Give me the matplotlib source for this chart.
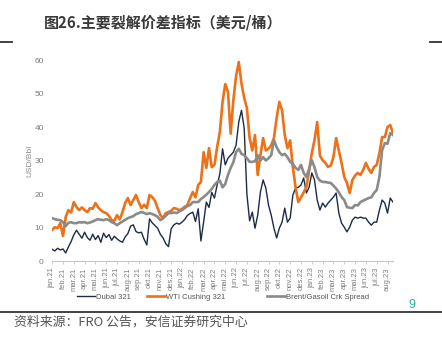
import numpy as np
import matplotlib
matplotlib.use("Agg")
import matplotlib.pyplot as plt
from matplotlib.lines import Line2D

plt.rcParams['font.family'] = ['Liberation Sans', 'Noto Sans CJK SC', 'DejaVu Sans']

# month axis labels (jan.21 .. aug.23)
months = ['jan.21', 'feb.21', 'mar.21', 'apr.21', 'mai.21', 'jun.21', 'jul.21', 'aug.21',
          'sep.21', 'okt.21', 'nov.21', 'des.21', 'jan.22', 'feb.22', 'mar.22', 'apr.22',
          'mai.22', 'jun.22', 'jul.22', 'aug.22', 'sep.22', 'okt.22', 'nov.22', 'des.22',
          'jan.23', 'feb.23', 'mar.23', 'apr.23', 'mai.23', 'jun.23', 'jul.23', 'aug.23']

# weekly values, 4 per month, USD/Bbl
dubai = [3.5, 3.0, 3.8, 3.3,   3.6, 2.4, 4.2, 5.8,   7.8, 9.2, 8.0, 6.8,   8.6, 7.0, 6.2, 8.0,
         6.4, 7.6, 5.6, 8.3,   7.0, 7.9, 6.2, 7.4,   6.6, 6.0, 5.6, 7.2,   8.2, 10.4, 10.8, 8.8,
         8.4, 8.6, 6.5, 4.8,   12.6, 11.4, 10.6, 9.8,   8.0, 6.9, 5.2, 4.3,   9.6, 10.8, 11.3, 11.0,
         11.6, 12.4, 13.6, 14.2,   14.6, 11.8, 15.6, 6.0,   11.6, 17.6, 16.0, 20.5,   18.8, 22.7, 26.0, 33.5,
         28.7, 30.7, 31.6, 32.5,   34.6, 41.5, 45.0, 39.7,   20.0, 12.0, 14.6, 9.8,   13.7, 20.6, 24.2, 21.8,
         16.7, 13.7, 9.8, 6.9,   9.8, 11.6, 15.8, 11.6,   12.8, 19.7, 21.8, 22.0,   22.7, 24.8, 20.3, 22.0,
         26.3, 24.2, 18.2, 15.2,   17.3, 16.1, 17.3, 18.2,   19.1, 20.3, 14.3, 11.3,   10.1, 8.7, 10.1, 12.2,
         13.1, 12.8, 13.1, 12.8,   12.8, 11.6, 10.7, 11.6,   11.6, 15.2, 18.2, 17.3,   14.3, 18.8, 17.6]

wti = [9.3, 10.1, 9.8, 11.3,   7.5, 13.1, 15.2, 14.5,   17.6, 16.1, 15.2, 16.0,   15.2, 14.6, 15.8, 15.6,
       17.3, 16.0, 15.2, 14.6,   14.3, 13.5, 12.2, 12.0,   13.7, 12.4, 14.6, 17.3,   18.8, 16.7, 18.2, 19.7,
       17.6, 15.8, 16.8, 15.8,   19.7, 19.1, 18.0, 15.8,   13.7, 12.8, 14.3, 14.6,   15.0, 15.8, 15.6, 15.2,
       15.5, 16.2, 16.7, 18.8,   20.6, 19.0, 22.7, 23.6,   32.5, 27.8, 33.7, 28.0,   28.7, 34.0, 38.5, 47.5,
       52.8, 50.5, 38.0, 48.0,   55.2, 59.4, 53.0, 48.7,   45.7, 36.7, 33.0, 37.6,   25.7, 31.6, 36.7, 33.0,
       33.5, 34.6, 36.7, 42.7,   47.5, 45.0, 37.6, 33.7,   36.0, 28.0, 22.0, 17.6,   19.0, 20.5, 22.1, 27.0,
       32.2, 36.1, 41.5, 31.5,   30.1, 29.3, 28.1, 28.5,   31.0, 36.7, 33.0, 29.3,   25.1, 23.3, 20.3, 24.2,
       25.5, 26.3, 25.7, 27.2,   29.3, 27.5, 26.3, 28.1,   28.7, 32.2, 37.0, 37.0,   40.0, 40.6, 38.2]

brent_gasoil = [12.8, 12.5, 12.3, 12.2,   11.6, 10.4, 11.4, 11.6,   11.3, 11.3, 11.6, 11.5,   11.6, 11.3, 11.5, 11.8,
                12.2, 12.5, 12.3, 12.2,   12.5, 12.2, 11.6, 11.3,   10.7, 11.3, 11.8, 12.3,   12.8, 13.1, 13.4, 14.0,
                14.3, 14.6, 14.4, 14.0,   14.3, 14.0, 13.7, 13.2,   12.2, 12.8, 13.5, 14.3,   14.3, 14.5, 14.3, 14.8,
                15.2, 15.8, 16.4, 16.7,   17.6, 17.6, 17.6, 18.5,   19.1, 19.8, 20.6, 21.5,   22.7, 23.6, 24.0, 22.0,
                23.0, 25.7, 27.8, 29.5,   32.5, 33.5, 32.0, 31.6,   30.7, 29.6, 29.6, 29.8,   31.6, 30.0, 31.0, 30.0,
                30.7, 31.6, 36.1, 34.0,   32.5, 31.6, 32.0, 31.0,   29.6, 29.0, 27.8, 27.2,   28.7, 26.3, 25.1, 27.5,
                30.1, 28.0, 25.1, 24.0,   23.6, 23.6, 23.4, 23.3,   22.5, 21.6, 20.5, 19.1,   18.2, 16.1, 15.9, 15.8,
                16.7, 16.6, 17.6, 18.0,   18.4, 18.8, 19.0, 20.3,   21.2, 25.1, 33.1, 35.2,   35.0, 38.2, 37.6]

yticks = [0, 10, 20, 30, 40, 50, 60]

x = np.arange(len(dubai)) / 4.0

fig = plt.figure(figsize=(4.42, 3.43), dpi=100)
ax = fig.add_axes([0.118, 0.239, 0.771, 0.586])

l1, = ax.plot(x, dubai, color='#1c2b48', lw=1.0, label='Dubai 321')
l2, = ax.plot(x, wti, color='#ec7118', lw=1.9, label='WTI Cushing 321')
l3, = ax.plot(x, brent_gasoil, color='#8a8a8a', lw=1.9, label='Brent/Gasoil Crk Spread')

ax.set_xlim(0, 31.5)
ax.set_ylim(0, 60)
ax.set_yticks(yticks)
ax.set_xticks(np.arange(len(months)))
ax.set_xticklabels(months, rotation=90)
for s in ['top', 'right', 'left']:
    ax.spines[s].set_visible(False)
ax.spines['bottom'].set_color('#c8c8c8')
ax.spines['bottom'].set_linewidth(0.8)
ax.tick_params(axis='y', length=0, pad=6, labelsize=6, labelcolor='#7f7f7f')
ax.tick_params(axis='x', length=2.5, width=0.6, color='#c8c8c8', pad=2,
               labelsize=5.5, labelcolor='#7f7f7f')
ax.set_ylabel('USD/Bbl', fontsize=6, color='#8c8c8c', labelpad=1)

# one legend box per series, spaced like the original layout
for line, xpos in [(l1, 77), (l2, 147), (l3, 267)]:
    lg = fig.legend(handles=[line], loc='center left', bbox_to_anchor=(xpos / 442, 1 - 297 / 343),
                    frameon=False, fontsize=5.5, handlelength=2.4, handletextpad=0.1,
                    borderpad=0, borderaxespad=0, labelcolor='#555555')

fig.text(0.10, 0.935, '图26.主要裂解价差指标（美元/桶）', fontsize=10.8, fontweight='bold',
         color='#3a3a3a', family=['Noto Sans CJK SC', 'DejaVu Sans'], va='center')

# header and footer rules
fig.add_artist(Line2D([0, 0.028], [0.877, 0.877], color='#333333', lw=1.3))
fig.add_artist(Line2D([0.973, 1.0], [0.877, 0.877], color='#333333', lw=1.3))
fig.add_artist(Line2D([0, 1.0], [0.090, 0.090], color='#222222', lw=1.2))

fig.text(0.932, 0.112, '9', fontsize=9, color='#2bb39b', ha='center', va='center')
fig.text(0.032, 0.060, '资料来源：FRO 公告，安信证券研究中心', fontsize=9.3, color='#555555',
         family=['Noto Sans CJK SC', 'DejaVu Sans'], va='center')

fig.savefig('out.png', dpi=100)
